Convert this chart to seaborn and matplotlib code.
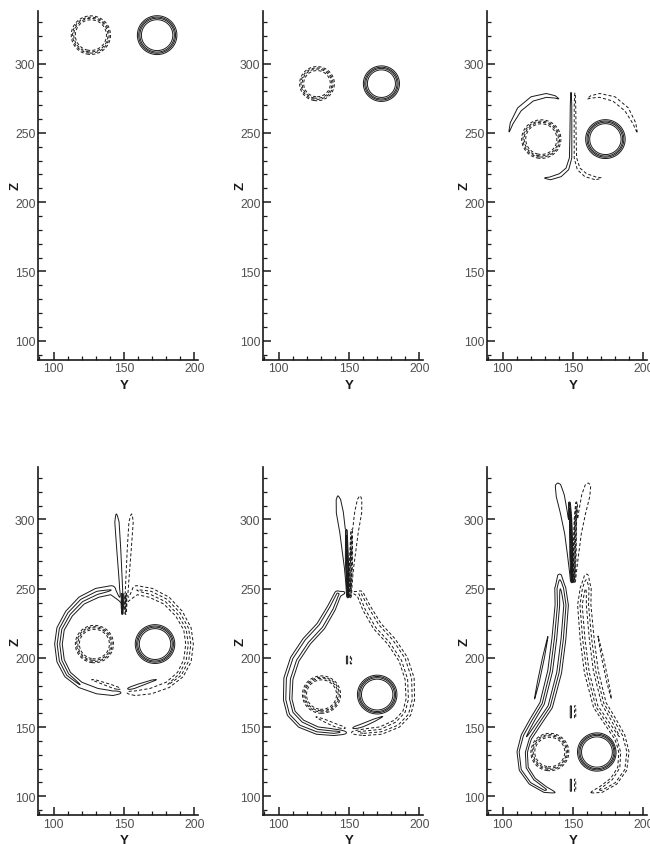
import numpy as np
import matplotlib
matplotlib.use("Agg")
import matplotlib.pyplot as plt
import seaborn as sns
from matplotlib.ticker import MultipleLocator

sns.set_theme(style="ticks")
plt.rcParams['font.family'] = ['Liberation Sans', 'DejaVu Sans']

# ---------------- data ----------------
# vortex cores (one positive / solid on the right, one negative / dashed on the left)
core_y_left = [126.5, 127.3, 127.5, 129.0, 130.5, 133.5]
core_y_right = [173.5, 173.0, 173.0, 172.0, 170.0, 167.0]
core_z = [320.5, 285.5, 245.5, 210.0, 173.5, 132.0]
core_r_left = [12.8, 11.2, 12.8, 12.4, 12.4, 12.4]
core_r_right = [12.9, 11.7, 12.9, 12.9, 12.9, 12.7]

# secondary (positive) vorticity sheets: (Y, Z, half-width, strength) along each sheet.
# The negative (dashed) sheets are their mirror images about Y = 150.
P3_UPPER_ARC = [(104.0, 248.5, 0.8, 0.17), (106.5, 257.0, 1.6, 0.30), (112.0, 267.0, 2.2, 0.34),
                (121.0, 274.5, 2.3, 0.34), (131.0, 277.0, 2.0, 0.32), (137.0, 276.0, 1.5, 0.28),
                (141.0, 274.0, 0.8, 0.17)]
P3_LOWER_ARM = [(128.5, 217.5, 0.8, 0.17), (134.0, 217.2, 1.6, 0.30), (141.0, 219.5, 1.7, 0.33),
                (146.0, 224.0, 1.4, 0.35), (148.3, 232.0, 1.0, 0.40), (148.5, 250.0, 0.8, 0.40),
                (148.6, 270.0, 0.7, 0.35), (148.6, 281.0, 0.5, 0.17)]

P4_SPIKE = [(148.9, 236.0, 0.8, 0.30), (148.0, 250.0, 1.2, 0.40), (146.3, 278.0, 1.7, 0.40),
            (145.0, 298.0, 1.9, 0.38), (144.5, 305.0, 1.2, 0.17)]
P4_CENTER = [(148.8, 232.0, 0.5, 0.60), (148.8, 246.0, 0.5, 0.60)]
P4_BODY = [(147.5, 241.0, 1.0, 0.25), (141.0, 249.0, 3.5, 0.45), (131.0, 247.0, 3.5, 0.50),
           (120.0, 241.5, 3.2, 0.50), (111.0, 232.0, 3.0, 0.50), (105.0, 221.0, 2.8, 0.50),
           (103.5, 210.0, 2.8, 0.50), (105.0, 198.0, 2.8, 0.50), (110.0, 188.0, 2.6, 0.50),
           (119.0, 180.5, 2.4, 0.45), (131.0, 176.0, 2.2, 0.45), (142.0, 174.5, 2.0, 0.40),
           (150.0, 176.0, 1.8, 0.35), (160.0, 180.0, 1.6, 0.30), (170.0, 183.5, 1.2, 0.25),
           (176.0, 185.0, 0.8, 0.15)]

P5_SPIKE = [(149.0, 245.0, 0.7, 0.30), (148.0, 265.0, 1.5, 0.40), (145.5, 291.0, 2.5, 0.40),
            (143.5, 305.0, 3.0, 0.40), (142.5, 314.0, 2.5, 0.30), (142.0, 318.0, 1.5, 0.17)]
P5_CENTER = [(149.2, 244.0, 0.6, 0.50), (148.8, 265.0, 0.7, 0.90), (148.0, 292.0, 0.6, 0.50)]
P5_BODY = [(146.0, 247.0, 1.5, 0.30), (142.0, 246.0, 2.5, 0.50), (137.5, 236.0, 3.0, 0.55),
           (130.0, 223.0, 3.2, 0.55), (120.0, 212.0, 3.2, 0.55), (111.5, 199.0, 3.2, 0.55),
           (107.0, 185.0, 3.2, 0.55), (106.5, 170.0, 3.0, 0.55), (109.0, 160.0, 3.0, 0.55),
           (116.0, 152.5, 3.0, 0.55), (127.4, 147.5, 2.8, 0.50), (139.3, 146.3, 2.5, 0.50),
           (149.0, 147.0, 2.2, 0.45), (158.0, 150.5, 1.8, 0.35), (168.0, 155.0, 1.4, 0.30),
           (176.0, 158.5, 0.8, 0.15)]
P5_BLOB = [(148.6, 196.0, 0.7, 0.30), (148.6, 201.0, 0.7, 0.30)]

P6_SPIKE = [(149.0, 256.0, 1.0, 0.35), (147.5, 275.0, 1.8, 0.40), (146.0, 290.0, 2.3, 0.40),
            (143.5, 305.0, 3.0, 0.40), (141.0, 317.0, 3.5, 0.40), (139.5, 324.0, 3.2, 0.30),
            (139.0, 327.0, 1.8, 0.17)]
P6_CENTER = [(149.3, 255.0, 0.6, 0.60), (148.8, 280.0, 0.7, 1.00), (148.2, 300.0, 0.7, 1.00),
             (147.5, 312.0, 0.6, 0.50)]
P6_BODY = [(140.5, 259.0, 2.0, 0.35), (141.0, 250.0, 3.5, 0.70), (142.0, 238.0, 4.0, 0.80),
           (140.0, 214.0, 4.2, 0.80), (137.0, 190.0, 4.2, 0.80), (131.0, 166.0, 4.0, 0.80),
           (123.5, 154.0, 3.8, 0.75), (117.0, 143.0, 3.5, 0.70), (114.0, 132.0, 3.3, 0.70),
           (115.0, 120.0, 3.0, 0.65), (121.0, 111.0, 2.8, 0.60), (130.0, 105.0, 2.3, 0.50),
           (138.0, 102.5, 1.2, 0.17)]
P6_STREAK = [(132.5, 217.0, 0.6, 0.17), (129.0, 200.0, 1.0, 0.30), (125.5, 183.0, 1.0, 0.30),
             (122.0, 167.0, 0.6, 0.17)]
P6_BLOB_A = [(148.5, 157.0, 0.7, 0.30), (148.5, 165.0, 0.7, 0.30)]
P6_BLOB_B = [(148.5, 104.0, 0.7, 0.30), (148.5, 112.0, 0.7, 0.30)]

panel_sheets = [
    [],
    [],
    [P3_UPPER_ARC, P3_LOWER_ARM],
    [P4_SPIKE, P4_CENTER, P4_BODY],
    [P5_SPIKE, P5_CENTER, P5_BODY, P5_BLOB],
    [P6_SPIKE, P6_CENTER, P6_BODY, P6_STREAK, P6_BLOB_A, P6_BLOB_B],
]

pos_levels = [0.2, 0.45, 0.7, 0.9]
neg_levels = [-0.9, -0.7, -0.45, -0.2]
x_ticks = [100, 150, 200]
z_ticks = [100, 150, 200, 250, 300]
xlim = (89.2, 202.5)
ylim = (86.5, 337.7)
symmetry_y = 150.0

# ---------------- field construction ----------------
yg = np.arange(88.0, 204.0, 0.3)
zg = np.arange(85.0, 339.0, 0.3)
Y, Z = np.meshgrid(yg, zg)


def core(Yg, Zg, y, z, r, s=0.8):
    rr = np.hypot(Yg - y, Zg - z)
    return 1.0 / (1.0 + np.exp((rr - r) / s))


def ridge(Yg, Zg, pts):
    pts = np.asarray(pts, float)
    out = np.zeros_like(Yg)
    for p0, p1 in zip(pts[:-1], pts[1:]):
        y0, z0, w0, a0 = p0
        y1, z1, w1, a1 = p1
        dy, dz = y1 - y0, z1 - z0
        L2 = dy * dy + dz * dz
        t = np.clip(((Yg - y0) * dy + (Zg - z0) * dz) / L2, 0, 1)
        d2 = (Yg - y0 - t * dy) ** 2 + (Zg - z0 - t * dz) ** 2
        w = w0 + (w1 - w0) * t
        a = a0 + (a1 - a0) * t
        out = np.maximum(out, a * np.exp(-d2 / w ** 2))
    return out


W, H = 650, 845
fig = plt.figure(figsize=(W / 100, H / 100), dpi=100)
lefts = [38.3, 263.3, 487.3]
rows = [(12.3, 360.5), (468.3, 816.0)]
pw = 159.7

for i in range(6):
    r, c = divmod(i, 3)
    top, bot = rows[r]
    ax = fig.add_axes([lefts[c] / W, (H - bot) / H, pw / W, (bot - top) / H])
    F = core(Y, Z, core_y_right[i], core_z[i], core_r_right[i]) \
        - core(Y, Z, core_y_left[i], core_z[i], core_r_left[i])
    for sh in panel_sheets[i]:
        F = F + ridge(Y, Z, sh) - ridge(2 * symmetry_y - Y, Z, sh)
    ax.contour(Y, Z, F, levels=pos_levels, colors='k', linewidths=0.7,
               linestyles='solid')
    cs = ax.contour(Y, Z, F, levels=neg_levels, colors='k', linewidths=0.7,
                    linestyles='solid')
    cs.set_linestyle((0, (3.2, 2.2)))
    ax.set_xlim(*xlim)
    ax.set_ylim(*ylim)
    ax.set_xticks(x_ticks)
    ax.set_yticks(z_ticks)
    ax.xaxis.set_minor_locator(MultipleLocator(10))
    ax.yaxis.set_minor_locator(MultipleLocator(10))
    ax.tick_params(which='major', direction='in', length=5.5, width=1.1,
                   colors='k', labelcolor='#505050', labelsize=8.8, pad=2)
    ax.tick_params(which='minor', direction='in', length=3, width=0.9, colors='k')
    sns.despine(ax=ax)
    for s in ['left', 'bottom']:
        ax.spines[s].set_linewidth(1.2)
        ax.spines[s].set_color('k')
    ax.set_facecolor('white')
    ax.text(0.537, -0.072, 'Y', transform=ax.transAxes, ha='center', va='center',
            fontsize=9.5, fontweight='bold', color='k')
    ax.text(-0.14, 0.5, 'Z', transform=ax.transAxes, ha='center', va='center',
            rotation=90, fontsize=9.5, fontweight='bold', color='k')

fig.savefig('out.png', dpi=100, facecolor='white')
